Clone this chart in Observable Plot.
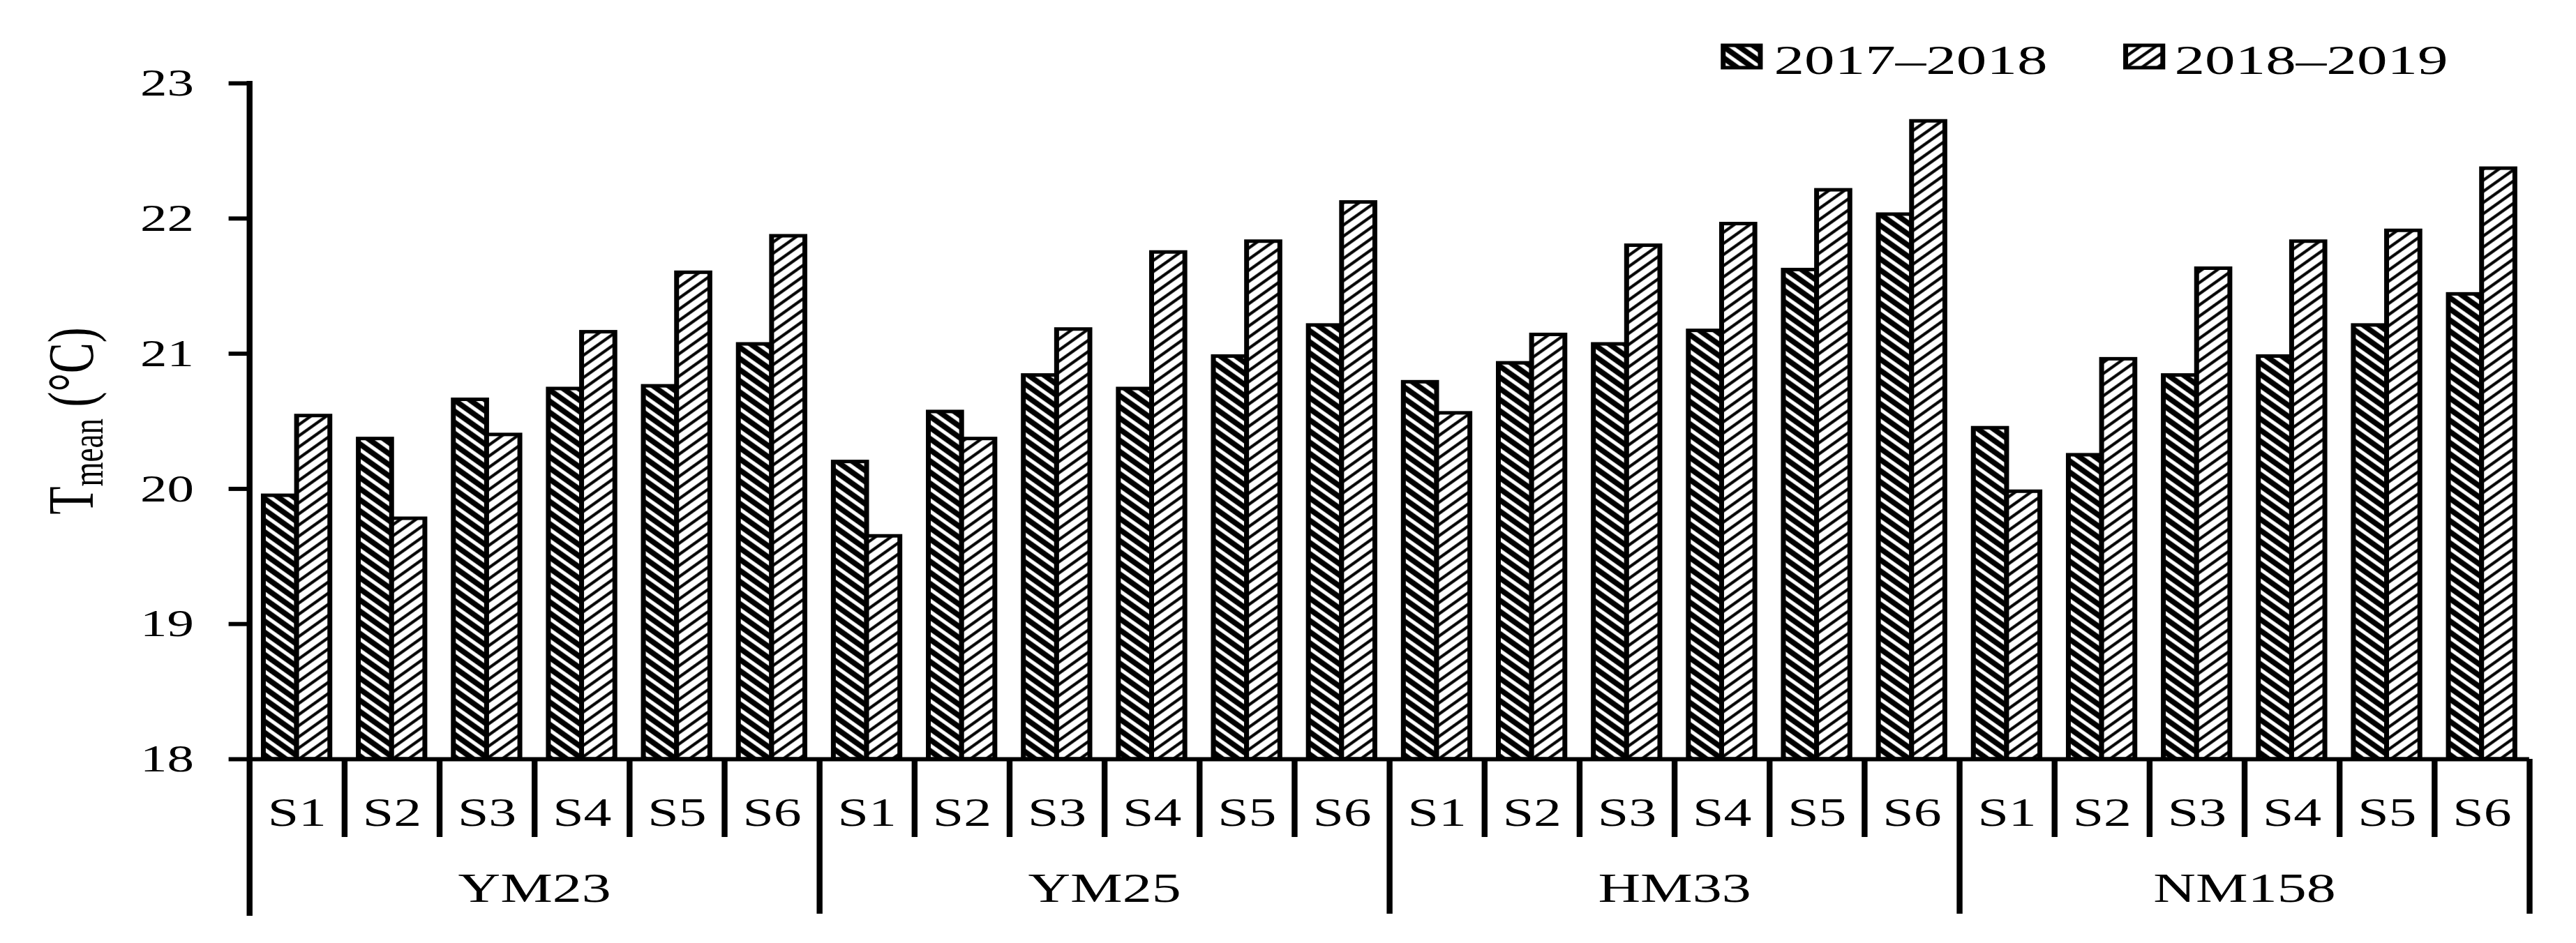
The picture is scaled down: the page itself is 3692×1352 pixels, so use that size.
<!DOCTYPE html>
<html>
<head>
<meta charset="utf-8">
<script src="https://cdn.jsdelivr.net/npm/d3@7"></script>
<script src="https://cdn.jsdelivr.net/npm/@observablehq/plot@0.6"></script>
<style>
  html, body { margin: 0; padding: 0; background: #fff; overflow: hidden; }
  #chart { position: relative; width: 3692px; height: 1352px; }
</style>
</head>
<body>
<div id="chart"></div>
<script>
// ---------- data ----------
const groups = ["YM23", "YM25", "HM33", "NM158"];
const sites = ["S1", "S2", "S3", "S4", "S5", "S6"];
const seasons = ["2017–2018", "2018–2019"];
const yTicks = [18, 19, 20, 21, 22, 23];
const yDomain = [18, 23];
const yLabelMain = "T";
const yLabelSub = "mean";
const yLabelUnit = " (°C)";

// Tmean per group × site (YM23 S1..S6, YM25 S1..S6, HM33 S1..S6, NM158 S1..S6)
const tmean2017_2018 = [
  19.95, 20.37, 20.66, 20.74, 20.76, 21.07,
  20.20, 20.57, 20.84, 20.74, 20.98, 21.21,
  20.79, 20.93, 21.07, 21.17, 21.62, 22.03,
  20.45, 20.25, 20.84, 20.98, 21.21, 21.44
];
const tmean2018_2019 = [
  20.54, 19.78, 20.40, 21.16, 21.60, 21.87,
  19.65, 20.37, 21.18, 21.75, 21.83, 22.12,
  20.56, 21.14, 21.80, 21.96, 22.21, 22.72,
  19.98, 20.96, 21.63, 21.83, 21.91, 22.37
];

// ---------- tables built from the arrays ----------
const slots = groups.flatMap((g, gi) =>
  sites.map((s, si) => ({ group: g, site: s, i: gi * sites.length + si }))
);
const bars1 = slots.map(d => ({ ...d, season: seasons[0], value: tmean2017_2018[d.i] }));
const bars2 = slots.map(d => ({ ...d, season: seasons[1], value: tmean2018_2019[d.i] }));
const nSlots = slots.length;
const groupBounds = groups.map((g, gi) => (gi + 1) * sites.length);
const siteBounds = d3.range(1, nSlots).filter(i => i % sites.length !== 0);

// ---------- layout ----------
const STRETCH = 1.4;            // the reference is stretched horizontally
const W = 3692, H = 1352;
const VW = Math.round(W / STRETCH);
const mTop = 119, mBottom = 264, mLeft = 255, mRight = 48;
const plotH = H - mTop - mBottom;
const barPad = 0.15;
const half = (1 - 2 * barPad) / 2;
const font = "'Liberation Serif', 'Times New Roman', Times, serif";

const plot = Plot.plot({
  width: VW,
  height: H,
  marginTop: mTop,
  marginBottom: mBottom,
  marginLeft: mLeft,
  marginRight: mRight,
  style: { fontFamily: font, background: "#fff", color: "#000" },
  x: { type: "linear", domain: [0, nSlots], axis: null },
  y: { domain: yDomain, axis: null },
  marks: [
    Plot.rect(bars1, {
      x1: d => d.i + barPad, x2: d => d.i + barPad + half,
      y1: d => yDomain[0], y2: "value",
      fill: "url(#hatch1718)", stroke: "#000", strokeWidth: 5
    }),
    Plot.rect(bars2, {
      x1: d => d.i + barPad + half, x2: d => d.i + barPad + 2 * half,
      y1: d => yDomain[0], y2: "value",
      fill: "url(#hatch1819)", stroke: "#000", strokeWidth: 5
    }),
    Plot.axisY({
      ticks: yTicks, tickSize: 21, tickPadding: 36, fontSize: 55,
      strokeWidth: 6, label: null, tickFormat: d => String(d), anchor: "left"
    }),
    // y axis line (extends down as the first group separator)
    Plot.ruleX([0], { stroke: "#000", strokeWidth: 6, insetBottom: -222, strokeLinecap: "square" }),
    // x axis line
    Plot.ruleY([yDomain[0]], { stroke: "#000", strokeWidth: 6 }),
    // group separators below the axis
    Plot.ruleX(groupBounds, { stroke: "#000", strokeWidth: 6, insetTop: plotH, insetBottom: -222 }),
    // site separators below the axis
    Plot.ruleX(siteBounds, { stroke: "#000", strokeWidth: 6, insetTop: plotH, insetBottom: -112 }),
    // site labels
    Plot.text(slots, {
      x: d => d.i + 0.5, text: "site", frameAnchor: "bottom", dy: 77,
      lineAnchor: "middle", fontSize: 57, fill: "#000"
    }),
    // group labels
    Plot.text(groups, {
      x: (d, gi) => gi * sites.length + sites.length / 2, text: d => d,
      frameAnchor: "bottom", dy: 185, lineAnchor: "middle", fontSize: 60, fill: "#000"
    })
  ]
});

// stretch horizontally like the reference
plot.setAttribute("width", W);
plot.setAttribute("height", H);
plot.setAttribute("viewBox", `0 0 ${VW} ${H}`);
plot.setAttribute("preserveAspectRatio", "none");
plot.style.width = W + "px";
plot.style.height = H + "px";
plot.style.maxWidth = "none";
plot.style.display = "block";

const svg = d3.select(plot);

// hatch patterns
const defs = svg.insert("defs", ":first-child");
const P = 11.3;
const p1 = defs.append("pattern")
  .attr("id", "hatch1718").attr("patternUnits", "userSpaceOnUse")
  .attr("width", P).attr("height", P).attr("patternTransform", "rotate(45)");
p1.append("rect").attr("width", P).attr("height", P).attr("fill", "#000");
p1.append("rect").attr("y", 1).attr("width", P).attr("height", 4.4).attr("fill", "#fff");
const p2 = defs.append("pattern")
  .attr("id", "hatch1819").attr("patternUnits", "userSpaceOnUse")
  .attr("width", P).attr("height", P).attr("patternTransform", "rotate(-45)");
p2.append("rect").attr("width", P).attr("height", P).attr("fill", "#fff");
p2.append("rect").attr("y", 1).attr("width", P).attr("height", 3.6).attr("fill", "#000");

// y-axis title with subscript
const yt = svg.append("text")
  .attr("transform", `translate(95, ${mTop + plotH / 2}) rotate(-90)`)
  .attr("text-anchor", "middle")
  .attr("font-family", font)
  .attr("font-size", 66)
  .attr("fill", "#000");
yt.append("tspan").text(yLabelMain);
yt.append("tspan").attr("font-size", 45).attr("dy", 10).text(yLabelSub);
yt.append("tspan").attr("dy", -10).text(yLabelUnit);

// legend
const legendItems = [
  { label: seasons[0], fill: "url(#hatch1718)", x: 1764, tx: 1816 },
  { label: seasons[1], fill: "url(#hatch1819)", x: 2176, tx: 2226 }
];
const lg = svg.append("g")
  .attr("font-family", font).attr("font-size", 60).attr("fill", "#000")
  .attr("text-anchor", "start");
for (const it of legendItems) {
  lg.append("rect").attr("x", it.x).attr("y", 65).attr("width", 38).attr("height", 32)
    .attr("fill", it.fill).attr("stroke", "#000").attr("stroke-width", 5);
  lg.append("text").attr("x", it.tx).attr("y", 106).attr("text-anchor", "start")
    .attr("textLength", 280).attr("lengthAdjust", "spacingAndGlyphs").text(it.label);
}

document.getElementById("chart").appendChild(plot);
</script>
</body>
</html>
